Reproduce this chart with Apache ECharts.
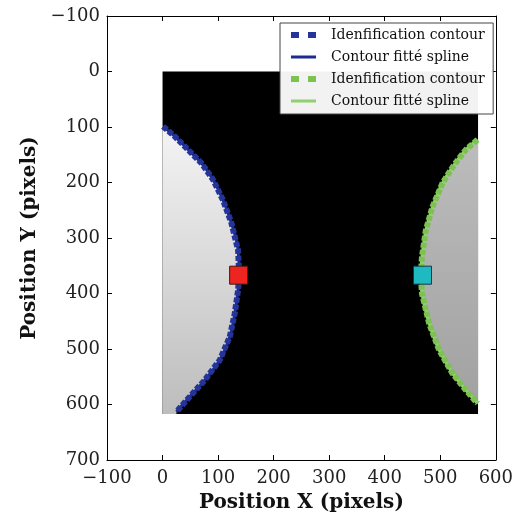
<!DOCTYPE html>
<html>
<head>
<meta charset="utf-8">
<script src="https://cdn.jsdelivr.net/npm/echarts@6/dist/echarts.min.js"></script>
<style>html,body{margin:0;padding:0;background:#fff}#c{width:516px;height:522px}</style>
</head>
<body>
<div id="c"></div>
<script>
// ---- data (image pixel coordinates) ----
const xTicks = [-100, 0, 100, 200, 300, 400, 500, 600];
const yTicks = [-100, 0, 100, 200, 300, 400, 500, 600, 700];
const imageX = [0, 568];
const imageY = [0, 617];
const leftContour = [[1,99],[22,117],[46,141],[70,165],[91,195],[109,232],[124,273],[136,322],[138,367],[136,394],[130,436],[121,478],[103,520],[76,556],[49,586],[25,613]];
const rightContour = [[567,123],[546,141],[525,168],[504,201],[486,244],[474,286],[467,334],[465,367],[467,400],[480,454],[498,502],[522,544],[546,574],[567,598]];
const leftCorners = [[25,617],[0,617],[0,99]];
const rightCorners = [[568,598],[568,123]];
const leftCenter = [[137, 367]];
const rightCenter = [[468, 367]];
const legendNames = ['Idenfification contour', 'Contour fitté spline', 'Idenfification contour ', 'Contour fitté spline '];

const chart = echarts.init(document.getElementById('c'));
const serif = 'DejaVu Serif';
const minus = v => String(v).replace('-', '\u2212');

function polySeries(points, c0, c1) {
  return {
    type: 'custom', silent: true, z: 2,
    data: points,
    renderItem: (params, api) => {
      if (params.dataIndex !== 0) return;
      const pts = points.map(p => api.coord(p));
      return { type: 'polygon', shape: { points: pts },
        style: { fill: new echarts.graphic.LinearGradient(0, 0, 0, 1, [{offset:0,color:c0},{offset:1,color:c1}]) } };
    }
  };
}

const tickCommon = { show: true, inside: true, length: 5, lineStyle: { color: '#000', width: 1 } };
const noSymbol = { color: 'rgba(0,0,0,0)', borderWidth: 0, opacity: 0 };

chart.setOption({
  animation: false,
  grid: { left: 107, right: 19, top: 16, bottom: 62 },
  xAxis: [{
    type: 'value', min: xTicks[0], max: xTicks[xTicks.length-1], interval: 100,
    name: 'Position X (pixels)', nameLocation: 'middle', nameGap: 33,
    nameTextStyle: { fontFamily: serif, fontSize: 20, fontWeight: 'bold', color: '#111' },
    axisLine: { show: true, onZero: false, lineStyle: { color: '#000', width: 1 } },
    axisTick: tickCommon, splitLine: { show: false },
    axisLabel: { fontFamily: serif, fontSize: 18, color: '#222', margin: 9, formatter: minus }
  }, {
    type: 'value', position: 'top', min: xTicks[0], max: xTicks[xTicks.length-1], interval: 100,
    axisLine: { show: true, onZero: false, lineStyle: { color: '#000', width: 1 } },
    axisTick: tickCommon, axisLabel: { show: false }, splitLine: { show: false }
  }],
  yAxis: [{
    type: 'value', inverse: true, min: yTicks[0], max: yTicks[yTicks.length-1], interval: 100,
    name: 'Position Y (pixels)', nameLocation: 'middle', nameGap: 66,
    nameTextStyle: { fontFamily: serif, fontSize: 20, fontWeight: 'bold', color: '#111' },
    axisLine: { show: true, onZero: false, lineStyle: { color: '#000', width: 1 } },
    axisTick: tickCommon, splitLine: { show: false },
    axisLabel: { fontFamily: serif, fontSize: 18, color: '#222', margin: 7, formatter: minus }
  }, {
    type: 'value', position: 'right', inverse: true, min: yTicks[0], max: yTicks[yTicks.length-1], interval: 100,
    axisLine: { show: true, onZero: false, lineStyle: { color: '#000', width: 1 } },
    axisTick: tickCommon, axisLabel: { show: false }, splitLine: { show: false }
  }],
  legend: {
    orient: 'vertical', left: 280, top: 23, itemWidth: 25, itemHeight: 14, itemGap: 8,
    padding: [5, 4, 6, 8],
    backgroundColor: 'rgba(255,255,255,0.95)', borderColor: '#444', borderWidth: 1,
    textStyle: { fontFamily: serif, fontSize: 14, color: '#111', padding: [0, 0, 0, 10] },
    data: [
      { name: legendNames[0], itemStyle: noSymbol, lineStyle: { width: 6, type: [8, 9] } },
      { name: legendNames[1], itemStyle: noSymbol, lineStyle: { width: 3 } },
      { name: legendNames[2], itemStyle: noSymbol, lineStyle: { width: 6, type: [8, 9] } },
      { name: legendNames[3], itemStyle: noSymbol, lineStyle: { width: 3 } }
    ]
  },
  series: [
    {
      type: 'custom', silent: true, z: 1,
      data: [[imageX[0], imageY[0], imageX[1], imageY[1]]],
      renderItem: (params, api) => {
        const p0 = api.coord([api.value(0), api.value(1)]);
        const p1 = api.coord([api.value(2), api.value(3)]);
        return { type: 'rect', shape: { x: p0[0], y: p0[1], width: p1[0]-p0[0], height: p1[1]-p0[1] }, style: { fill: '#000' } };
      }
    },
    polySeries(leftContour.concat(leftCorners), '#f4f4f4', '#bdbdbd'),
    polySeries(rightContour.concat(rightCorners), '#bcbcbc', '#a2a2a2'),
    { name: legendNames[1], type: 'line', z: 3, data: leftContour, smooth: 0.4, symbol: 'none',
      itemStyle: { color: '#1c2d8e' }, lineStyle: { color: '#1c2d8e', width: 3 } },
    { name: legendNames[0], type: 'line', z: 4, data: leftContour, symbol: 'none',
      itemStyle: { color: '#24349a' }, lineStyle: { color: '#24349a', width: 6, type: [5, 2] } },
    { name: legendNames[3], type: 'line', z: 3, data: rightContour, smooth: 0.4, symbol: 'none',
      itemStyle: { color: '#92d06e' }, lineStyle: { color: '#92d06e', width: 3 } },
    { name: legendNames[2], type: 'line', z: 4, data: rightContour, symbol: 'none',
      itemStyle: { color: '#7cc24f' }, lineStyle: { color: '#7cc24f', width: 6, type: [5, 2] } },
    { type: 'scatter', z: 5, data: leftCenter, symbol: 'rect', symbolSize: 18,
      itemStyle: { color: '#ee2420', opacity: 1, borderColor: '#3a1a10', borderWidth: 1 } },
    { type: 'scatter', z: 5, data: rightCenter, symbol: 'rect', symbolSize: 18,
      itemStyle: { color: '#1fb9c1', opacity: 1, borderColor: '#0e3b44', borderWidth: 1 } }
  ]
});
</script>
</body>
</html>
